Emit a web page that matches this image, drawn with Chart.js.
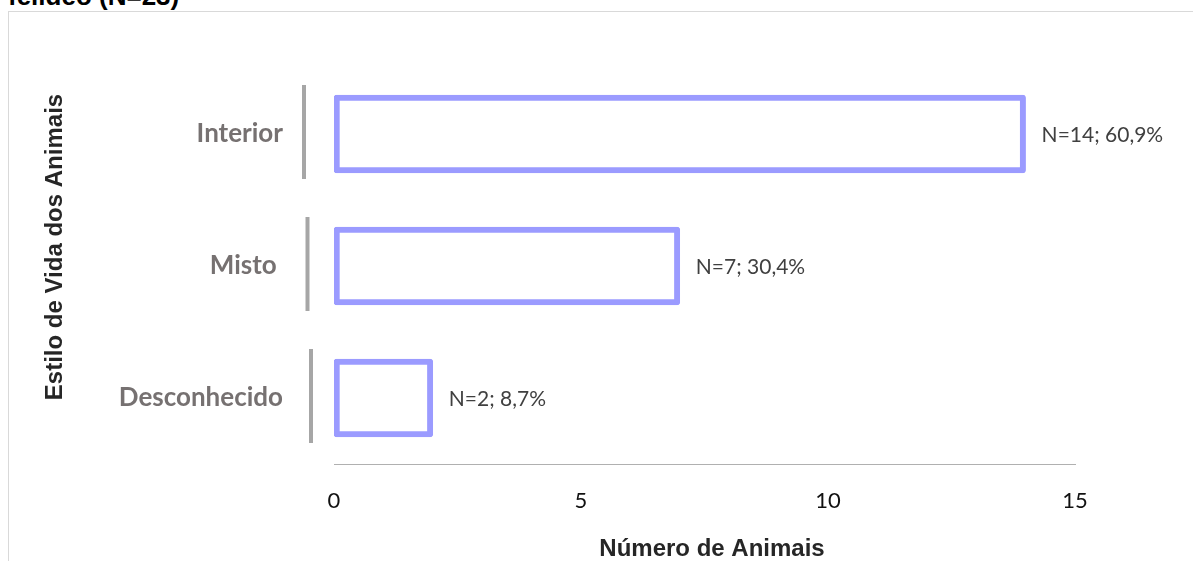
<!DOCTYPE html>
<html>
<head>
<meta charset="utf-8">
<script src="https://cdn.jsdelivr.net/npm/chart.js@4"></script>
<style>
    html, body { margin: 0; padding: 0; background: #fff; }
    body { width: 1193px; height: 561px; position: relative; overflow: hidden; }
    #topTitle {
        position: absolute; left: 8px; top: -17px;
        font: bold 26px "Liberation Sans", Arial, sans-serif; line-height: 26px;
        color: #000; white-space: nowrap;
    }
    #frame {
        position: absolute; left: 8px; top: 11px; width: 1200px; height: 600px;
        border-top: 1px solid #d9d9d9; border-left: 1px solid #d9d9d9;
    }
    #chartBox { position: absolute; left: 0; top: 0; width: 1193px; height: 561px; }
</style>
</head>
<body>
<div id="topTitle">felídeo (N=23)</div>
<div id="frame"></div>
<div id="chartBox"><canvas id="chartLifestyle" width="1193" height="561"></canvas></div>

<script>
// data
const categories = ['Interior', 'Misto ', 'Desconhecido'];
const animalCounts = [14, 7, 2];
const pctLabels = ['60,9%', '30,4%', '8,7%'];
const xTicks = [0, 5, 10, 15];

const yTitle = 'Estilo de Vida dos Animais';
const xTitle = 'Número de Animais';

// gray separator lines next to category labels
const labelLines = {
    id: 'labelLines',
    beforeDatasetsDraw(chart) {
        const ctx = chart.ctx;
        const yScale = chart.scales.y;
        const left = chart.chartArea.left;
        ctx.save();
        ctx.strokeStyle = '#a6a6a6';
        ctx.lineWidth = 4;
        categories.forEach((c, i) => {
            const y = yScale.getPixelForTick(i);
            const x = left - 30 + i * 3.5;
            ctx.beginPath();
            ctx.moveTo(x, y - 49);
            ctx.lineTo(x, y + 45);
            ctx.stroke();
        });
        ctx.restore();
    }
};

// "N=14; 60,9%" labels at bar ends
const barLabels = {
    id: 'barLabels',
    afterDatasetsDraw(chart) {
        const ctx = chart.ctx;
        const meta = chart.getDatasetMeta(0);
        ctx.save();
        ctx.font = '21px Lato, "Open Sans", sans-serif';
        ctx.fillStyle = '#404040';
        ctx.textAlign = 'left';
        ctx.textBaseline = 'middle';
        meta.data.forEach((bar, i) => {
            ctx.fillText('N=' + animalCounts[i] + '; ' + pctLabels[i], bar.x + 16, bar.y + 1);
        });
        ctx.restore();
    }
};

// axis titles
const axisTitles = {
    id: 'axisTitles',
    afterDraw(chart) {
        const ctx = chart.ctx;
        ctx.save();
        ctx.fillStyle = '#262626';
        ctx.font = 'bold 24px "Liberation Sans", Arial, sans-serif';
        ctx.textAlign = 'center';
        ctx.textBaseline = 'middle';
        ctx.fillText(xTitle, 712, 549);
        ctx.translate(55, 247);
        ctx.rotate(-Math.PI / 2);
        ctx.fillText(yTitle, 0, 0);
        ctx.restore();
    }
};

new Chart(document.getElementById('chartLifestyle').getContext('2d'), {
    type: 'bar',
    data: {
        labels: categories,
        datasets: [{
            label: xTitle,
            data: animalCounts,
            backgroundColor: '#ffffff',
            borderColor: '#9b9bff',
            borderWidth: 6,
            borderRadius: 3,
            borderSkipped: false,
            barThickness: 78
        }]
    },
    options: {
        indexAxis: 'y',
        responsive: false,
        animation: false,
        events: [],
        layout: { padding: { top: 68, right: 118, left: 0, bottom: 0 } },
        plugins: { legend: { display: false }, tooltip: { enabled: false } },
        scales: {
            x: {
                min: 0, max: 15,
                afterBuildTicks: (scale) => { scale.ticks = xTicks.map(v => ({ value: v })); },
                afterFit: (scale) => { scale.height = 97; },
                grid: { display: false, drawTicks: false },
                border: { display: true, color: '#b0b0b0', width: 1 },
                ticks: { padding: 24, color: '#111', font: { family: 'Lato', size: 22 } }
            },
            y: {
                afterFit: (scale) => { scale.width = 334; },
                grid: { display: false, drawTicks: false },
                border: { display: false },
                ticks: { padding: 51, color: '#767171', font: { family: 'Lato', size: 26, weight: 'bold' } }
            }
        }
    },
    plugins: [labelLines, barLabels, axisTitles]
});
</script>
</body>
</html>
